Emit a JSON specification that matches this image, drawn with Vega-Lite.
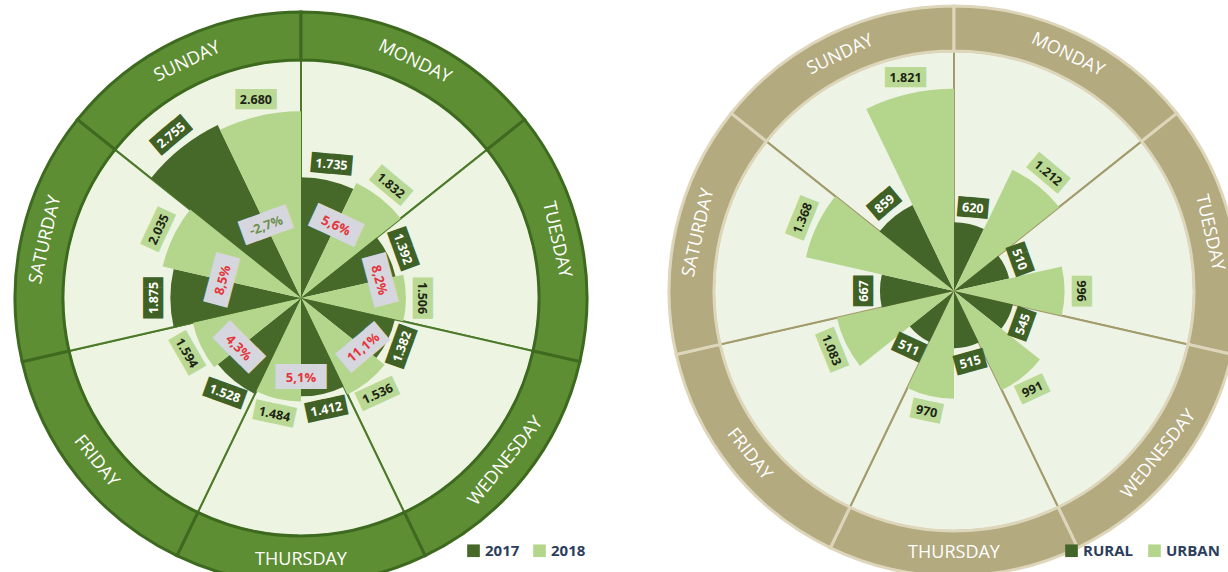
{
  "$schema": "https://vega.github.io/schema/vega-lite/v6.json",
  "padding": 0,
  "background": "white",
  "spacing": 61,
  "datasets": {
    "week": [
      {"day": "SUNDAY", "dayNum": 1, "pct": -0.027},
      {"day": "MONDAY", "dayNum": 2, "pct": 0.056},
      {"day": "TUESDAY", "dayNum": 3, "pct": 0.082},
      {"day": "WEDNESDAY", "dayNum": 4, "pct": 0.111},
      {"day": "THURSDAY", "dayNum": 5, "pct": 0.051},
      {"day": "FRIDAY", "dayNum": 6, "pct": 0.043},
      {"day": "SATURDAY", "dayNum": 7, "pct": 0.085}
    ],
    "years": [
      {"day": "SUNDAY", "dayNum": 1, "year": "2017", "value": 2755},
      {"day": "SUNDAY", "dayNum": 1, "year": "2018", "value": 2680},
      {"day": "MONDAY", "dayNum": 2, "year": "2017", "value": 1735},
      {"day": "MONDAY", "dayNum": 2, "year": "2018", "value": 1832},
      {"day": "TUESDAY", "dayNum": 3, "year": "2017", "value": 1392},
      {"day": "TUESDAY", "dayNum": 3, "year": "2018", "value": 1506},
      {"day": "WEDNESDAY", "dayNum": 4, "year": "2017", "value": 1382},
      {"day": "WEDNESDAY", "dayNum": 4, "year": "2018", "value": 1536},
      {"day": "THURSDAY", "dayNum": 5, "year": "2017", "value": 1412},
      {"day": "THURSDAY", "dayNum": 5, "year": "2018", "value": 1484},
      {"day": "FRIDAY", "dayNum": 6, "year": "2017", "value": 1528},
      {"day": "FRIDAY", "dayNum": 6, "year": "2018", "value": 1594},
      {"day": "SATURDAY", "dayNum": 7, "year": "2017", "value": 1875},
      {"day": "SATURDAY", "dayNum": 7, "year": "2018", "value": 2035}
    ],
    "areas": [
      {"day": "SUNDAY", "dayNum": 1, "area": "RURAL", "value": 859},
      {"day": "SUNDAY", "dayNum": 1, "area": "URBAN", "value": 1821},
      {"day": "MONDAY", "dayNum": 2, "area": "RURAL", "value": 620},
      {"day": "MONDAY", "dayNum": 2, "area": "URBAN", "value": 1212},
      {"day": "TUESDAY", "dayNum": 3, "area": "RURAL", "value": 510},
      {"day": "TUESDAY", "dayNum": 3, "area": "URBAN", "value": 996},
      {"day": "WEDNESDAY", "dayNum": 4, "area": "RURAL", "value": 545},
      {"day": "WEDNESDAY", "dayNum": 4, "area": "URBAN", "value": 991},
      {"day": "THURSDAY", "dayNum": 5, "area": "RURAL", "value": 515},
      {"day": "THURSDAY", "dayNum": 5, "area": "URBAN", "value": 970},
      {"day": "FRIDAY", "dayNum": 6, "area": "RURAL", "value": 511},
      {"day": "FRIDAY", "dayNum": 6, "area": "URBAN", "value": 1083},
      {"day": "SATURDAY", "dayNum": 7, "area": "RURAL", "value": 667},
      {"day": "SATURDAY", "dayNum": 7, "area": "URBAN", "value": 1368}
    ]
  },
  "hconcat": [
    {
      "width": 602,
      "height": 584,
      "resolve": {"scale": {"theta": "independent", "angle": "independent"}},
      "layer": [
        {
          "data": {"name": "week"},
          "mark": {"type": "arc", "outerRadius": 238, "innerRadius": 0, "fill": "#edf4e2", "stroke": "#4d7a2a", "strokeWidth": 2},
          "encoding": {
            "theta": {"aggregate": "count", "type": "quantitative", "stack": true, "scale": {"range": [-0.8975979, 5.3855874]}},
            "order": {"field": "dayNum", "type": "quantitative"}
          }
        },
        {
          "data": {"name": "week"},
          "mark": {"type": "arc", "outerRadius": 286, "innerRadius": 238, "fill": "#5e8e33", "stroke": "#3e6a1f", "strokeWidth": 3},
          "encoding": {
            "theta": {"aggregate": "count", "type": "quantitative", "stack": true, "scale": {"range": [-0.8975979, 5.3855874]}},
            "order": {"field": "dayNum", "type": "quantitative"}
          }
        },
        {
          "data": {"name": "week"},
          "mark": {"type": "text", "radius": 262, "font": "Open Sans", "fontSize": 18, "color": "white", "align": "center", "baseline": "middle"},
          "encoding": {
            "theta": {"field": "dayNum", "type": "quantitative", "scale": {"domain": [1, 7], "range": [-0.448799, 4.9367884], "zero": false, "nice": false}},
            "angle": {"field": "dayNum", "type": "quantitative", "scale": {"domain": [1, 2, 3, 4, 5, 6, 7], "range": [-25.7, 25.7, 77.1, -51.4, 0, 51.4, -77.1]}},
            "text": {"field": "day", "type": "nominal"}
          }
        },
        {
          "data": {"name": "years"},
          "transform": [
            {"aggregate": [{"op": "count", "as": "n"}], "groupby": ["day", "dayNum", "year", "value"]},
            {"stack": "n", "groupby": [], "sort": [{"field": "dayNum", "order": "ascending"}, {"field": "year", "order": "ascending"}], "as": ["s0", "s1"]}
          ],
          "mark": {"type": "arc"},
          "encoding": {
            "theta": {"field": "s0", "type": "quantitative", "stack": null, "scale": {"domain": [0, 14], "range": [-0.8975979, 5.3855874], "zero": false, "nice": false}},
            "theta2": {"field": "s1"},
            "radius": {"field": "value", "type": "quantitative", "stack": null, "scale": {"type": "linear", "domain": [0, 3000], "range": [0, 209], "zero": true}},
            "color": {
              "field": "year", "type": "nominal",
              "scale": {"domain": ["2017", "2018"], "range": ["#46692a", "#b4d68c"]},
              "legend": {"orient": "none", "legendX": 466, "legendY": 537, "direction": "horizontal", "title": null, "symbolType": "square", "symbolSize": 160, "symbolStrokeWidth": 0, "labelFont": "Open Sans", "labelFontSize": 15, "labelFontWeight": "bold", "labelColor": "#2c3e5c", "columnPadding": 12}
            }
          }
        },
        {
          "data": {"name": "years"},
          "transform": [{"filter": {"field": "year", "equal": "2017"}}],
          "mark": {"type": "text", "text": "████", "font": "DejaVu Sans Mono", "fontSize": 17, "radiusOffset": 16, "align": "center", "baseline": "middle", "color": "#3f6125"},
          "encoding": {
            "theta": {"field": "dayNum", "type": "quantitative", "scale": {"domain": [1, 7], "range": [-0.6731984, 4.712389], "zero": false, "nice": false}},
            "radius": {"field": "value", "type": "quantitative", "scale": {"type": "linear", "domain": [0, 3000], "range": [0, 209], "zero": true}},
            "angle": {"field": "dayNum", "type": "quantitative", "scale": {"domain": [1, 2, 3, 4, 5, 6, 7], "range": [-40, 5, 70, -70, -12, 20, -90]}}
          }
        },
        {
          "data": {"name": "years"},
          "transform": [{"filter": {"field": "year", "equal": "2017"}}],
          "mark": {"type": "text", "font": "Open Sans", "fontSize": 12.5, "fontWeight": "bold", "radiusOffset": 16, "align": "center", "baseline": "middle", "color": "white"},
          "encoding": {
            "theta": {"field": "dayNum", "type": "quantitative", "scale": {"domain": [1, 7], "range": [-0.6731984, 4.712389], "zero": false, "nice": false}},
            "radius": {"field": "value", "type": "quantitative", "scale": {"type": "linear", "domain": [0, 3000], "range": [0, 209], "zero": true}},
            "angle": {"field": "dayNum", "type": "quantitative", "scale": {"domain": [1, 2, 3, 4, 5, 6, 7], "range": [-40, 5, 70, -70, -12, 20, -90]}},
            "text": {"field": "value", "type": "quantitative", "format": ",d"}
          }
        },
        {
          "data": {"name": "years"},
          "transform": [{"filter": {"field": "year", "equal": "2018"}}],
          "mark": {"type": "text", "text": "████", "font": "DejaVu Sans Mono", "fontSize": 17, "radiusOffset": 16, "align": "center", "baseline": "middle", "color": "#b9d995"},
          "encoding": {
            "theta": {"field": "dayNum", "type": "quantitative", "scale": {"domain": [1, 7], "range": [-0.2243995, 5.1611879], "zero": false, "nice": false}},
            "radius": {"field": "value", "type": "quantitative", "scale": {"type": "linear", "domain": [0, 3000], "range": [0, 209], "zero": true}},
            "angle": {"field": "dayNum", "type": "quantitative", "scale": {"domain": [1, 2, 3, 4, 5, 6, 7], "range": [0, 40, 90, -25, 12, 60, -65]}}
          }
        },
        {
          "data": {"name": "years"},
          "transform": [{"filter": {"field": "year", "equal": "2018"}}],
          "mark": {"type": "text", "font": "Open Sans", "fontSize": 12.5, "fontWeight": "bold", "radiusOffset": 16, "align": "center", "baseline": "middle", "color": "#1d2414"},
          "encoding": {
            "theta": {"field": "dayNum", "type": "quantitative", "scale": {"domain": [1, 7], "range": [-0.2243995, 5.1611879], "zero": false, "nice": false}},
            "radius": {"field": "value", "type": "quantitative", "scale": {"type": "linear", "domain": [0, 3000], "range": [0, 209], "zero": true}},
            "angle": {"field": "dayNum", "type": "quantitative", "scale": {"domain": [1, 2, 3, 4, 5, 6, 7], "range": [0, 40, 90, -25, 12, 60, -65]}},
            "text": {"field": "value", "type": "quantitative", "format": ",d"}
          }
        },
        {
          "data": {"name": "week"},
          "mark": {"type": "text", "text": "████", "font": "DejaVu Sans Mono", "fontSize": 21, "radius": 80, "align": "center", "baseline": "middle", "color": "#d6d7de"},
          "encoding": {
            "theta": {"field": "dayNum", "type": "quantitative", "scale": {"domain": [1, 7], "range": [-0.448799, 4.9367884], "zero": false, "nice": false}},
            "angle": {"field": "dayNum", "type": "quantitative", "scale": {"domain": [1, 2, 3, 4, 5, 6, 7], "range": [-20, 25, 75, -40, 0, 45, -75]}}
          }
        },
        {
          "data": {"name": "week"},
          "mark": {"type": "text", "font": "Open Sans", "fontSize": 13, "fontWeight": "bold", "radius": 80, "align": "center", "baseline": "middle"},
          "encoding": {
            "theta": {"field": "dayNum", "type": "quantitative", "scale": {"domain": [1, 7], "range": [-0.448799, 4.9367884], "zero": false, "nice": false}},
            "angle": {"field": "dayNum", "type": "quantitative", "scale": {"domain": [1, 2, 3, 4, 5, 6, 7], "range": [-20, 25, 75, -40, 0, 45, -75]}},
            "text": {"field": "pct", "type": "quantitative", "format": ".1%"},
            "color": {"condition": {"test": "datum.pct < 0", "value": "#6f9150"}, "value": "#e5343b"}
          }
        }
      ]
    },
    {
      "width": 560,
      "height": 570,
      "resolve": {"scale": {"theta": "independent", "angle": "independent"}},
      "layer": [
        {
          "data": {"name": "week"},
          "mark": {"type": "arc", "outerRadius": 240, "innerRadius": 0, "fill": "#eef4e5", "stroke": "#a29b6c", "strokeWidth": 2},
          "encoding": {
            "theta": {"aggregate": "count", "type": "quantitative", "stack": true, "scale": {"range": [-0.8975979, 5.3855874]}},
            "order": {"field": "dayNum", "type": "quantitative"}
          }
        },
        {
          "data": {"name": "week"},
          "mark": {"type": "arc", "outerRadius": 285, "innerRadius": 240, "fill": "#b3aa7f", "stroke": "#ddd6bb", "strokeWidth": 3},
          "encoding": {
            "theta": {"aggregate": "count", "type": "quantitative", "stack": true, "scale": {"range": [-0.8975979, 5.3855874]}},
            "order": {"field": "dayNum", "type": "quantitative"}
          }
        },
        {
          "data": {"name": "week"},
          "mark": {"type": "text", "radius": 262, "font": "Open Sans", "fontSize": 18, "color": "white", "align": "center", "baseline": "middle"},
          "encoding": {
            "theta": {"field": "dayNum", "type": "quantitative", "scale": {"domain": [1, 7], "range": [-0.448799, 4.9367884], "zero": false, "nice": false}},
            "angle": {"field": "dayNum", "type": "quantitative", "scale": {"domain": [1, 2, 3, 4, 5, 6, 7], "range": [-25.7, 25.7, 77.1, -51.4, 0, 51.4, -77.1]}},
            "text": {"field": "day", "type": "nominal"}
          }
        },
        {
          "data": {"name": "areas"},
          "transform": [
            {"aggregate": [{"op": "count", "as": "n"}], "groupby": ["day", "dayNum", "area", "value"]},
            {"stack": "n", "groupby": [], "sort": [{"field": "dayNum", "order": "ascending"}, {"field": "area", "order": "ascending"}], "as": ["s0", "s1"]}
          ],
          "mark": {"type": "arc"},
          "encoding": {
            "theta": {"field": "s0", "type": "quantitative", "stack": null, "scale": {"domain": [0, 14], "range": [-0.8975979, 5.3855874], "zero": false, "nice": false}},
            "theta2": {"field": "s1"},
            "radius": {"field": "value", "type": "quantitative", "stack": null, "scale": {"type": "linear", "domain": [0, 2000], "range": [0, 222], "zero": true}},
            "fill": {
              "field": "area", "type": "nominal",
              "scale": {"domain": ["RURAL", "URBAN"], "range": ["#44652a", "#b4d68c"]},
              "legend": {"orient": "none", "legendX": 1064, "legendY": 537, "direction": "horizontal", "title": null, "symbolType": "square", "symbolSize": 160, "symbolStrokeWidth": 0, "labelFont": "Open Sans", "labelFontSize": 15, "labelFontWeight": "bold", "labelColor": "#2c3e5c", "columnPadding": 14}
            }
          }
        },
        {
          "data": {"name": "areas"},
          "transform": [{"filter": {"field": "area", "equal": "RURAL"}}],
          "mark": {"type": "text", "font": "DejaVu Sans Mono", "fontSize": 17, "radiusOffset": 16, "align": "center", "baseline": "middle", "color": "#3f6125"},
          "encoding": {
            "theta": {"field": "dayNum", "type": "quantitative", "scale": {"domain": [1, 7], "range": [-0.6731984, 4.712389], "zero": false, "nice": false}},
            "radius": {"field": "value", "type": "quantitative", "scale": {"type": "linear", "domain": [0, 2000], "range": [0, 222], "zero": true}},
            "angle": {"field": "dayNum", "type": "quantitative", "scale": {"domain": [1, 2, 3, 4, 5, 6, 7], "range": [-40, 5, 70, -70, -15, 25, -90]}},
            "text": {"condition": {"test": "datum.value >= 1000", "value": "████"}, "value": "███"}
          }
        },
        {
          "data": {"name": "areas"},
          "transform": [{"filter": {"field": "area", "equal": "RURAL"}}],
          "mark": {"type": "text", "font": "Open Sans", "fontSize": 12.5, "fontWeight": "bold", "radiusOffset": 16, "align": "center", "baseline": "middle", "color": "white"},
          "encoding": {
            "theta": {"field": "dayNum", "type": "quantitative", "scale": {"domain": [1, 7], "range": [-0.6731984, 4.712389], "zero": false, "nice": false}},
            "radius": {"field": "value", "type": "quantitative", "scale": {"type": "linear", "domain": [0, 2000], "range": [0, 222], "zero": true}},
            "angle": {"field": "dayNum", "type": "quantitative", "scale": {"domain": [1, 2, 3, 4, 5, 6, 7], "range": [-40, 5, 70, -70, -15, 25, -90]}},
            "text": {"field": "value", "type": "quantitative", "format": ",d"}
          }
        },
        {
          "data": {"name": "areas"},
          "transform": [{"filter": {"field": "area", "equal": "URBAN"}}],
          "mark": {"type": "text", "font": "DejaVu Sans Mono", "fontSize": 17, "radiusOffset": 16, "align": "center", "baseline": "middle", "color": "#b9d995"},
          "encoding": {
            "theta": {"field": "dayNum", "type": "quantitative", "scale": {"domain": [1, 7], "range": [-0.2243995, 5.1611879], "zero": false, "nice": false}},
            "radius": {"field": "value", "type": "quantitative", "scale": {"type": "linear", "domain": [0, 2000], "range": [0, 222], "zero": true}},
            "angle": {"field": "dayNum", "type": "quantitative", "scale": {"domain": [1, 2, 3, 4, 5, 6, 7], "range": [0, 40, 90, -25, 12, 68, -68]}},
            "text": {"condition": {"test": "datum.value >= 1000", "value": "████"}, "value": "███"}
          }
        },
        {
          "data": {"name": "areas"},
          "transform": [{"filter": {"field": "area", "equal": "URBAN"}}],
          "mark": {"type": "text", "font": "Open Sans", "fontSize": 12.5, "fontWeight": "bold", "radiusOffset": 16, "align": "center", "baseline": "middle", "color": "#1d2414"},
          "encoding": {
            "theta": {"field": "dayNum", "type": "quantitative", "scale": {"domain": [1, 7], "range": [-0.2243995, 5.1611879], "zero": false, "nice": false}},
            "radius": {"field": "value", "type": "quantitative", "scale": {"type": "linear", "domain": [0, 2000], "range": [0, 222], "zero": true}},
            "angle": {"field": "dayNum", "type": "quantitative", "scale": {"domain": [1, 2, 3, 4, 5, 6, 7], "range": [0, 40, 90, -25, 12, 68, -68]}},
            "text": {"field": "value", "type": "quantitative", "format": ",d"}
          }
        }
      ]
    }
  ],
  "config": {
    "view": {"stroke": null},
    "locale": {"number": {"decimal": ",", "thousands": ".", "grouping": [3], "currency": ["", "€"], "minus": "-"}}
  }
}
